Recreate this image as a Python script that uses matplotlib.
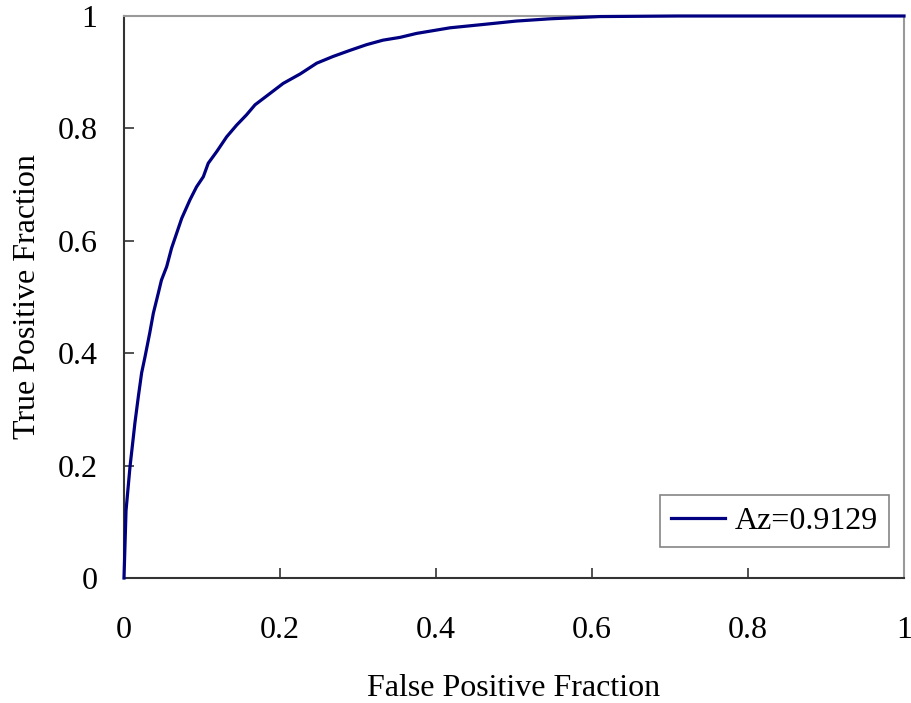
import matplotlib.pyplot as plt

# ROC curve points
fpr = [0.0, 0.0026, 0.0077, 0.012, 0.014, 0.0184, 0.0226, 0.027, 0.033, 0.0376,
       0.044, 0.048, 0.0547, 0.061, 0.074, 0.0846, 0.093, 0.1017, 0.108, 0.119,
       0.1316, 0.1445, 0.157, 0.168, 0.187, 0.204, 0.226, 0.247, 0.268, 0.29,
       0.311, 0.332, 0.354, 0.375, 0.418, 0.461, 0.503, 0.546, 0.61, 0.71, 1.0]
tpr = [0.0, 0.12, 0.198, 0.251, 0.276, 0.323, 0.365, 0.394, 0.436, 0.471,
       0.507, 0.530, 0.554, 0.587, 0.640, 0.673, 0.696, 0.714, 0.738, 0.759,
       0.785, 0.806, 0.824, 0.842, 0.862, 0.880, 0.897, 0.916, 0.928, 0.939,
       0.949, 0.957, 0.962, 0.969, 0.979, 0.985, 0.991, 0.995, 0.999, 1.0, 1.0]
legend_label = "Az=0.9129"
ticks = [0, 0.2, 0.4, 0.6, 0.8, 1]
tick_labels = ["0", "0.2", "0.4", "0.6", "0.8", "1"]

plt.rcParams['font.family'] = ['Liberation Serif', 'DejaVu Serif']

fig = plt.figure(figsize=(9.11, 7.03), dpi=100)
ax = fig.add_axes([124 / 911, 1 - 578 / 703, 780 / 911, 562 / 703])

ax.plot(fpr, tpr, color="#000080", linewidth=2.3, label=legend_label, clip_on=False, zorder=3)

ax.set_xlim(0, 1)
ax.set_ylim(0, 1)
ax.set_xticks(ticks)
ax.set_xticklabels(tick_labels)
ax.set_yticks(ticks)
ax.set_yticklabels(tick_labels)
ax.tick_params(axis="both", direction="in", length=7, width=1.2, labelsize=23,
               color="#333333")
ax.tick_params(axis="x", pad=27)
ax.tick_params(axis="y", pad=19)

for side in ["left", "bottom"]:
    ax.spines[side].set_color("#333333")
    ax.spines[side].set_linewidth(1.5)
for side in ["top", "right"]:
    ax.spines[side].set_color("#999999")
    ax.spines[side].set_linewidth(1.5)

ax.set_xlabel("False Positive Fraction", fontsize=23, labelpad=21)
ax.set_ylabel("True Positive Fraction", fontsize=23, labelpad=11)

leg = ax.legend(loc="lower right", bbox_to_anchor=(0.981, 0.055), borderaxespad=0,
                fontsize=23, frameon=True, fancybox=False, handlelength=1.7,
                borderpad=0.35, handletextpad=0.3)
leg.get_frame().set_edgecolor("#666666")
leg.get_frame().set_linewidth(1.2)

fig.savefig("out.png", dpi=100)
